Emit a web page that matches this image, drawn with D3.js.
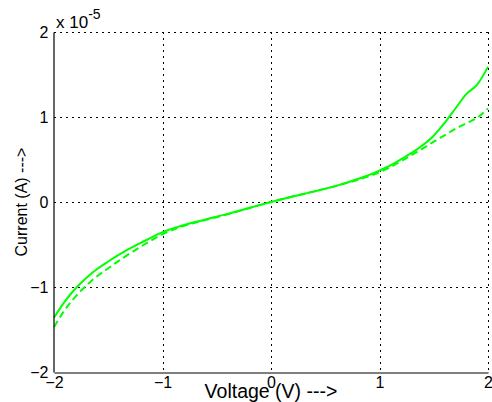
<!DOCTYPE html>
<html>
<head>
<meta charset="utf-8">
<script src="https://cdn.jsdelivr.net/npm/d3@7"></script>
<style>
  html, body { margin: 0; padding: 0; background: #fff; }
  svg { display: block; font-family: "Liberation Sans", Arial, Helvetica, sans-serif; }
</style>
</head>
<body>
<svg id="chart" width="492" height="402"></svg>
<script>
// Data (current in units of 1e-5 A)
const voltage = [-2, -1.9, -1.8, -1.7, -1.6, -1.5, -1.4, -1.3, -1.2, -1.1, -1.0,
  -0.8, -0.6, -0.4, -0.2, 0, 0.2, 0.4, 0.6, 0.8, 1.0,
  1.1, 1.2, 1.3, 1.4, 1.5, 1.6, 1.7, 1.8, 1.9, 2.0];
const currentSolid = [-1.36, -1.17, -1.015, -0.89, -0.785, -0.70, -0.62, -0.547, -0.481, -0.415, -0.355,
  -0.27, -0.205, -0.14, -0.07, 0, 0.065, 0.125, 0.19, 0.27, 0.37,
  0.43, 0.505, 0.58, 0.67, 0.78, 0.93, 1.10, 1.27, 1.38, 1.59];
const currentDashed = [-1.47, -1.27, -1.11, -0.98, -0.87, -0.78, -0.69, -0.605, -0.525, -0.45, -0.38,
  -0.28, -0.21, -0.145, -0.07, 0, 0.065, 0.125, 0.19, 0.26, 0.35,
  0.41, 0.48, 0.555, 0.63, 0.71, 0.785, 0.86, 0.925, 0.99, 1.10];
const xTicks = [-2, -1, 0, 1, 2];
const yTicks = [-2, -1, 0, 1, 2];
const xLabel = "Voltage (V) --->";
const yLabel = "Current (A) --->";

const svg = d3.select("#chart");
const m = { left: 54, right: 488, top: 32, bottom: 372 };

const x = d3.scaleLinear().domain([-2, 2]).range([m.left, m.right]);
const y = d3.scaleLinear().domain([-2, 2]).range([m.bottom, m.top]);

// Grid
const grid = svg.append("g").attr("stroke", "#000").attr("stroke-width", 1)
  .attr("stroke-dasharray", "2,4").attr("shape-rendering", "crispEdges");
grid.selectAll("line.v").data(xTicks.slice(1)).join("line")
  .attr("x1", d => Math.round(x(d)) + 0.5).attr("x2", d => Math.round(x(d)) + 0.5)
  .attr("y1", m.top).attr("y2", m.bottom);
grid.selectAll("line.h").data(yTicks.slice(1)).join("line")
  .attr("x1", m.left).attr("x2", m.right)
  .attr("y1", d => Math.round(y(d)) + 0.5).attr("y2", d => Math.round(y(d)) + 0.5);

// Curves
const line = d3.line().x((d, i) => x(voltage[i])).y(d => y(d)).curve(d3.curveMonotoneX);
svg.append("path").datum(currentDashed).attr("d", line)
  .attr("fill", "none").attr("stroke", "#00ff00").attr("stroke-width", 2)
  .attr("stroke-dasharray", "7,4");
svg.append("path").datum(currentSolid).attr("d", line)
  .attr("fill", "none").attr("stroke", "#00ff00").attr("stroke-width", 2);

// Axes
const xAxis = d3.axisBottom(x).tickValues(xTicks).tickSize(0).tickPadding(4).tickFormat(d3.format("d"));
const yAxis = d3.axisLeft(y).tickValues(yTicks).tickSize(0).tickPadding(5).tickFormat(d3.format("d"));

const gx = svg.append("g").attr("transform", `translate(0,${m.bottom + 0.5})`).call(xAxis);
const gy = svg.append("g").attr("transform", `translate(${m.left - 0.5},0)`).call(yAxis);
[gx, gy].forEach(g => {
  g.select(".domain").attr("stroke", "#000").attr("stroke-width", 1.2);
  g.selectAll("text").attr("fill", "#000").style("font-size", "16px")
    .style("font-family", "'Liberation Sans', Arial, sans-serif");
});
gx.selectAll("text").attr("dy", "0.7em");

// Exponent label
const ex = svg.append("text").attr("x", 56).attr("y", 28).attr("fill", "#000")
  .style("font-size", "17px");
ex.append("tspan").text("x 10");
ex.append("tspan").attr("dy", -9).style("font-size", "14px").text("-5");

// Axis labels
svg.append("text").attr("x", (m.left + m.right) / 2).attr("y", 398)
  .attr("text-anchor", "middle").attr("fill", "#000").style("font-size", "19.5px").text(xLabel);
svg.append("text").attr("transform", `translate(27,${(m.top + m.bottom) / 2}) rotate(-90)`)
  .attr("text-anchor", "middle").attr("fill", "#000").style("font-size", "16px").text(yLabel);
</script>
</body>
</html>
